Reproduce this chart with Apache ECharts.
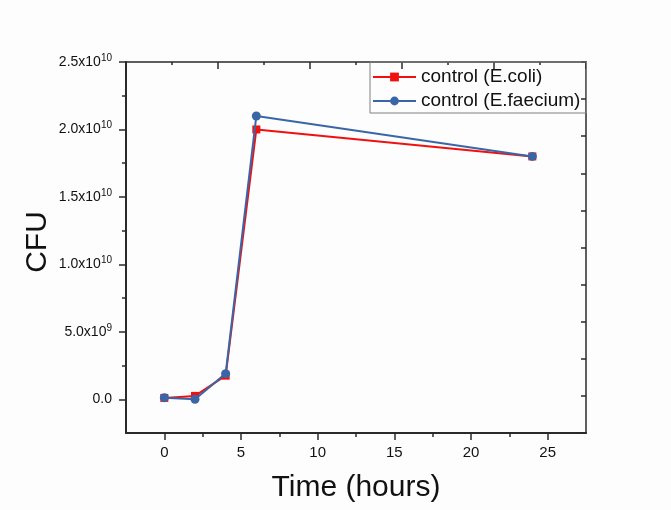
<!DOCTYPE html>
<html>
<head>
<meta charset="utf-8">
<script src="https://cdn.jsdelivr.net/npm/echarts@6/dist/echarts.min.js"></script>
<style>
html,body{margin:0;padding:0;background:#fdfdfd;}
#chart{width:671px;height:510px;}
</style>
</head>
<body>
<div id="chart"></div>
<script>
// Data
var timeHours = [0, 2, 4, 6, 24];
var ecoliCFU = [1.0e8, 2.5e8, 1.75e9, 2.0e10, 1.8e10];
var faeciumCFU = [1.2e8, 0, 1.9e9, 2.1e10, 1.8e10];
var seriesNames = ['control (E.coli)', 'control (E.faecium)'];
var xTickValues = [0, 5, 10, 15, 20, 25];
var xMinorTickValues = [2.5, 7.5, 12.5, 17.5, 22.5];
var yTickValues = [0, 5e9, 1e10, 1.5e10, 2e10, 2.5e10];
var yTickLabels = ['0.0', '5.0x10^9', '1.0x10^10', '1.5x10^10', '2.0x10^10', '2.5x10^10'];
var yMinorTickValues = [2.5e9, 7.5e9, 1.25e10, 1.75e10, 2.25e10];
var xTitle = 'Time (hours)';
var yTitle = 'CFU';

function pairs(xs, ys) { return xs.map(function (x, i) { return [x, ys[i]]; }); }

var FONT = '"Liberation Sans", Arial, sans-serif';
var AX = '#2a2a2a';

var chart = echarts.init(document.getElementById('chart'), null, {renderer: 'canvas'});
var option = {
  backgroundColor: '#fdfdfd',
  animation: false,
  textStyle: {fontFamily: FONT},
  grid: {left: 126, top: 62, width: 460, height: 371, containLabel: false},
  legend: {
    left: 370, top: 62,
    orient: 'vertical',
    itemWidth: 43, itemHeight: 11, itemGap: 4,
    padding: [5, 6, 2, 2],
    borderColor: '#808080', borderWidth: 1,
    textStyle: {fontSize: 19, color: '#111', fontFamily: FONT, lineHeight: 20},
    data: seriesNames
  },
  xAxis: [
    {
      type: 'value', position: 'bottom', min: -2.5, max: 27.5, interval: 2.5,
      axisLine: {show: true, onZero: false, lineStyle: {color: AX, width: 2}},
      axisTick: {show: true, inside: false, length: 7, customValues: xTickValues, lineStyle: {color: AX, width: 1.5}},
      axisLabel: {show: true, customValues: xTickValues, margin: 12, fontSize: 15, color: '#111', fontFamily: FONT},
      splitLine: {show: false}
    },
    {
      type: 'value', position: 'bottom', min: -2.5, max: 27.5, interval: 2.5, gridIndex: 0,
      axisLine: {show: false, onZero: false},
      axisTick: {show: true, inside: false, length: 4, customValues: xMinorTickValues, lineStyle: {color: AX, width: 1.5}},
      axisLabel: {show: false},
      splitLine: {show: false}
    },
    {
      type: 'value', position: 'top', min: 0, max: 10, interval: 2, gridIndex: 0,
      axisLine: {show: true, onZero: false, lineStyle: {color: AX, width: 1.5}},
      axisTick: {show: true, inside: true, length: 7, lineStyle: {color: AX, width: 1.5}},
      minorTick: {show: true, splitNumber: 2, length: 3, lineStyle: {color: AX, width: 1.5}},
      axisLabel: {show: false},
      splitLine: {show: false}
    }
  ],
  yAxis: [
    {
      type: 'value', position: 'left', min: -2.5e9, max: 2.5e10, interval: 2.5e9,
      axisLine: {show: true, onZero: false, lineStyle: {color: AX, width: 2}},
      axisTick: {show: true, inside: false, length: 7, customValues: yTickValues, lineStyle: {color: AX, width: 1.5}},
      axisLabel: {
        show: true, customValues: yTickValues, margin: 14, color: '#111', fontFamily: FONT,
        formatter: function (v) {
          var idx = yTickValues.indexOf(v);
          var lab = idx >= 0 ? yTickLabels[idx] : '';
          var parts = lab.split('^');
          if (parts.length === 1) return '{a|' + parts[0] + '}';
          return '{a|' + parts[0] + '}{s|' + parts[1] + '}';
        },
        rich: {
          a: {fontSize: 14, lineHeight: 18, verticalAlign: 'middle', color: '#111', fontFamily: FONT},
          s: {fontSize: 10, lineHeight: 10, verticalAlign: 'top', color: '#111', fontFamily: FONT}
        }
      },
      splitLine: {show: false}
    },
    {
      type: 'value', position: 'left', min: -2.5e9, max: 2.5e10, interval: 2.5e9,
      axisLine: {show: false, onZero: false},
      axisTick: {show: true, inside: false, length: 4, customValues: yMinorTickValues, lineStyle: {color: AX, width: 1.5}},
      axisLabel: {show: false},
      splitLine: {show: false}
    },
    {
      type: 'value', position: 'right', min: 0, max: 10, interval: 1,
      axisLine: {show: true, onZero: false, lineStyle: {color: AX, width: 1.5}},
      axisTick: {show: true, inside: true, length: 5, lineStyle: {color: AX, width: 1.5}},
      axisLabel: {show: false},
      splitLine: {show: false}
    }
  ],
  series: [
    {
      name: seriesNames[0], type: 'line', xAxisIndex: 0, yAxisIndex: 0,
      data: pairs(timeHours, ecoliCFU),
      symbol: 'rect', symbolSize: 8,
      lineStyle: {color: '#f01010', width: 2},
      itemStyle: {color: '#f01010'},
      z: 3
    },
    {
      name: seriesNames[1], type: 'line', xAxisIndex: 0, yAxisIndex: 0,
      data: pairs(timeHours, faeciumCFU),
      symbol: 'circle', symbolSize: 9,
      lineStyle: {color: '#3a66a7', width: 2},
      itemStyle: {color: '#3a66a7'},
      z: 4
    }
  ],
  graphic: [
    {
      type: 'text', x: 356, y: 488,
      style: {text: xTitle, font: '30px ' + FONT, fill: '#111', textAlign: 'center', textVerticalAlign: 'middle'}
    },
    {
      type: 'text', x: 38, y: 242, rotation: Math.PI / 2,
      style: {text: yTitle, font: '30px ' + FONT, fill: '#111', textAlign: 'center', textVerticalAlign: 'middle'}
    }
  ]
};
chart.setOption(option);
</script>
</body>
</html>
